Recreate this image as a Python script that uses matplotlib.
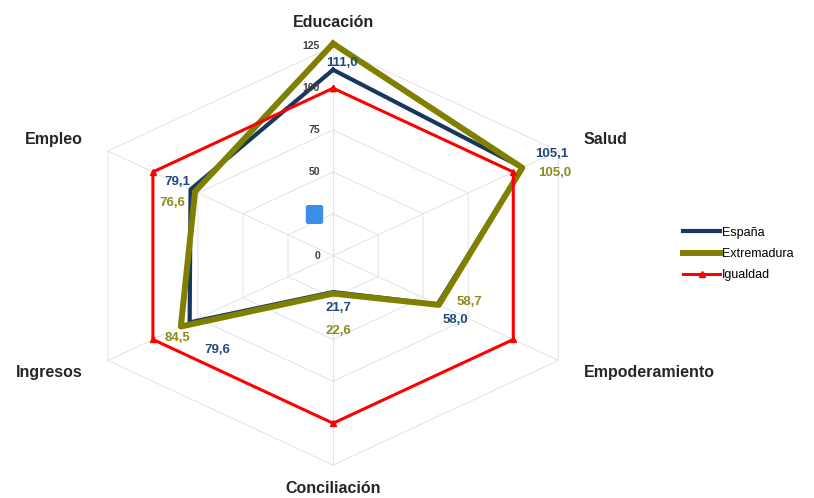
import numpy as np
import matplotlib.pyplot as plt
from matplotlib.transforms import ScaledTranslation

plt.rcParams['font.family'] = ['Liberation Sans', 'DejaVu Sans']

categorias = ['Educación', 'Salud', 'Empoderamiento', 'Conciliación', 'Ingresos', 'Empleo']
espana = [111.0, 105.1, 58.0, 21.7, 79.6, 79.1]
extremadura = [126.6, 105.0, 58.7, 22.6, 84.5, 76.6]
igualdad = [100, 100, 100, 100, 100, 100]
ticks_r = [0, 25, 50, 75, 100, 125]

# label offsets in pixels (dx, dy)
off_esp = [(9, 7), (29, 14), (18, -16), (5, -16), (28, -28), (-13, 7)]
off_ext = [(9, 9), (32, -5), (31, 3), (5, -37), (-3, -11), (-23, -11)]

c_esp = '#17375E'
c_ext = '#808000'
c_igu = '#FF0000'
c_esp_txt = '#1F497D'
c_ext_txt = '#8C8C1A'

n = len(categorias)
ang = np.linspace(0, 2 * np.pi, n, endpoint=False)
ang_c = np.append(ang, ang[0])

fig = plt.figure(figsize=(8.14, 4.98), dpi=100)
ax = fig.add_axes([0.0897, 0.066, 0.639, 0.841], projection='polar')
ax.set_aspect('auto')
ax.set_theta_offset(np.pi / 2)
ax.set_theta_direction(-1)
ax.set_ylim(0, 125)
ax.grid(False)
ax.set_xticks([])
ax.set_yticks([])
ax.spines['polar'].set_visible(False)
ax.set_facecolor('none')

# hexagonal grid
for r in ticks_r[1:]:
    ax.plot(ang_c, [r] * (n + 1), color='#E6E6E6', lw=0.8, zorder=1, clip_on=False)
for a in ang:
    ax.plot([a, a], [0, ticks_r[-1]], color='#E6E6E6', lw=0.8, zorder=1, clip_on=False)

ax.plot(ang_c, espana + espana[:1], color=c_esp, lw=3.0, zorder=3, clip_on=False, label='España')
ax.plot(ang_c, extremadura + extremadura[:1], color=c_ext, lw=4.3, zorder=4, clip_on=False, label='Extremadura')
ax.plot(ang_c, igualdad + igualdad[:1], color=c_igu, lw=2.2, marker='^', ms=4, zorder=5, clip_on=False, label='Igualdad')

# radial tick labels (the 25 one is hidden under a blue square, as in the source)
for r in ticks_r:
    if r == 25:
        sq, = ax.plot([0], [r], marker='s', ms=11, color='#3A8EE6', linestyle='none', zorder=6)
        sq.set_transform(ax.transData + ScaledTranslation(-19 / 100, 0, fig.dpi_scale_trans))
        continue
    ax.annotate(str(r), xy=(0, r), xytext=(-13, 0), textcoords='offset pixels',
                ha='right', va='center', fontsize=7.5, fontweight='bold', color='#404040')

# category labels
has = ['center', 'left', 'left', 'center', 'right', 'right']
for a, lab, h in zip(ang, categorias, has):
    ax.text(a, 139, lab, ha=h, va='center', fontsize=11.5, fontweight='bold', color='#262626')

# data labels
for a, v, o in zip(ang, espana, off_esp):
    ax.annotate(f'{v:.1f}'.replace('.', ','), xy=(a, v), xytext=o, textcoords='offset pixels',
                ha='center', va='center', fontsize=9.5, fontweight='bold', color=c_esp_txt, zorder=7)
for a, v, o in zip(ang, extremadura, off_ext):
    ax.annotate(f'{v:.1f}'.replace('.', ','), xy=(a, v), xytext=o, textcoords='offset pixels',
                ha='center', va='center', fontsize=9.5, fontweight='bold', color=c_ext_txt, zorder=7)

h, l = ax.get_legend_handles_labels()
fig.legend(h, l, loc='center left', bbox_to_anchor=(0.825, 0.49), frameon=False,
           fontsize=9, handlelength=3.0, handletextpad=0.15, labelspacing=0.75)

fig.savefig('out.png', dpi=100, facecolor='white')
